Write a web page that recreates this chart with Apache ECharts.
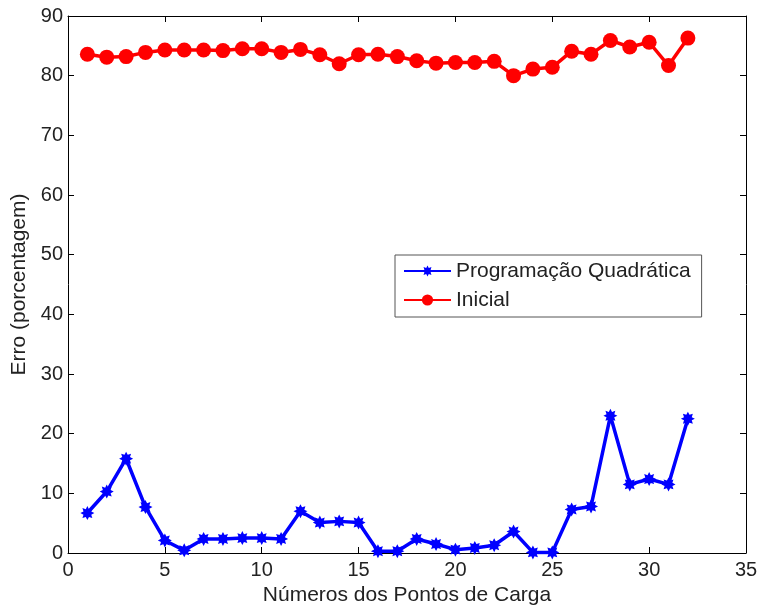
<!DOCTYPE html>
<html><head><meta charset="utf-8">
<script src="https://cdn.jsdelivr.net/npm/echarts@6/dist/echarts.min.js"></script>
<style>html,body{margin:0;padding:0;background:#fff}#c{width:764px;height:607px}</style>
</head><body><div id="c"></div>
<script>
const xPoints = [1,2,3,4,5,6,7,8,9,10,11,12,13,14,15,16,17,18,19,20,21,22,23,24,25,26,27,28,29,30,31,32];
const quadValues = [6.7,10.3,15.8,7.7,2.1,0.45,2.35,2.35,2.5,2.5,2.35,7.0,5.1,5.3,5.1,0.3,0.3,2.35,1.5,0.56,0.84,1.3,3.6,0.1,0.1,7.3,7.8,23.0,11.5,12.4,11.5,22.5];
const inicialValues = [83.6,83.1,83.2,83.9,84.3,84.3,84.3,84.2,84.5,84.5,83.9,84.4,83.5,82.0,83.5,83.6,83.2,82.5,82.1,82.2,82.2,82.4,80.0,81.1,81.4,84.1,83.6,85.9,84.8,85.6,81.7,86.3];
const seriesNames = ['Programação Quadrática','Inicial'];
const xAxisName = 'Números dos Pontos de Carga';
const yAxisName = 'Erro (porcentagem)';

const pair = (xs, ys) => xs.map((x, i) => [x, ys[i]]);
const asterisk = 'path://M10,5 L7.772,6.148 L8.536,8.536 L6.148,7.772 L5,10 L3.852,7.772 L1.464,8.536 L2.228,6.148 L0,5 L2.228,3.852 L1.464,1.464 L3.852,2.228 L5,0 L6.148,2.228 L8.536,1.464 L7.772,3.852 Z';
const font = 'Liberation Sans, Arial, sans-serif';
const txt = '#222';

const chart = echarts.init(document.getElementById('c'), null, {renderer: 'canvas'});
const axisCommon = {
  axisLine: {show: true, onZero: false, lineStyle: {color: '#000', width: 1}},
  axisTick: {show: true, inside: true, length: 6, lineStyle: {color: '#000'}},
  splitLine: {show: false}
};
chart.setOption({
  animation: false,
  grid: {left: 68, right: 18, top: 16, bottom: 54, containLabel: false, outerBoundsMode: 'none'},
  xAxis: [
    Object.assign({type: 'value', min: 0, max: 35, interval: 5, position: 'bottom',
      name: xAxisName, nameLocation: 'middle', nameGap: 30,
      nameTextStyle: {fontFamily: font, fontSize: 21, color: txt},
      axisLabel: {fontFamily: font, fontSize: 20, color: txt, margin: 7}}, axisCommon),
    Object.assign({type: 'value', min: 0, max: 35, interval: 5, position: 'top',
      axisLabel: {show: false}}, axisCommon)
  ],
  yAxis: [
    Object.assign({type: 'value', min: 0, max: 90, interval: 10, position: 'left',
      name: yAxisName, nameLocation: 'middle', nameGap: 35, nameRotate: 90,
      nameTextStyle: {fontFamily: font, fontSize: 21, color: txt},
      axisLabel: {fontFamily: font, fontSize: 20, color: txt, margin: 5}}, axisCommon),
    Object.assign({type: 'value', min: 0, max: 90, interval: 10, position: 'right',
      axisLabel: {show: false}}, axisCommon)
  ],
  legend: {
    left: 395, top: 255, orient: 'vertical',
    padding: [5, 11, 6, 8], itemGap: 7, itemWidth: 47, itemHeight: 14,
    backgroundColor: '#fff', borderColor: '#555', borderWidth: 1,
    textStyle: {fontFamily: font, fontSize: 21, lineHeight: 22, color: txt},
    data: seriesNames
  },
  series: [
    {name: seriesNames[0], type: 'line', data: pair(xPoints, quadValues),
      symbol: asterisk, symbolSize: 14, color: '#0000ff',
      lineStyle: {width: 3.5, color: '#0000ff'}, itemStyle: {color: '#0000ff'}},
    {name: seriesNames[1], type: 'line', data: pair(xPoints, inicialValues),
      symbol: 'circle', symbolSize: 15, color: '#ff0000',
      lineStyle: {width: 3.5, color: '#ff0000'}, itemStyle: {color: '#ff0000'}}
  ]
});
</script></body></html>
